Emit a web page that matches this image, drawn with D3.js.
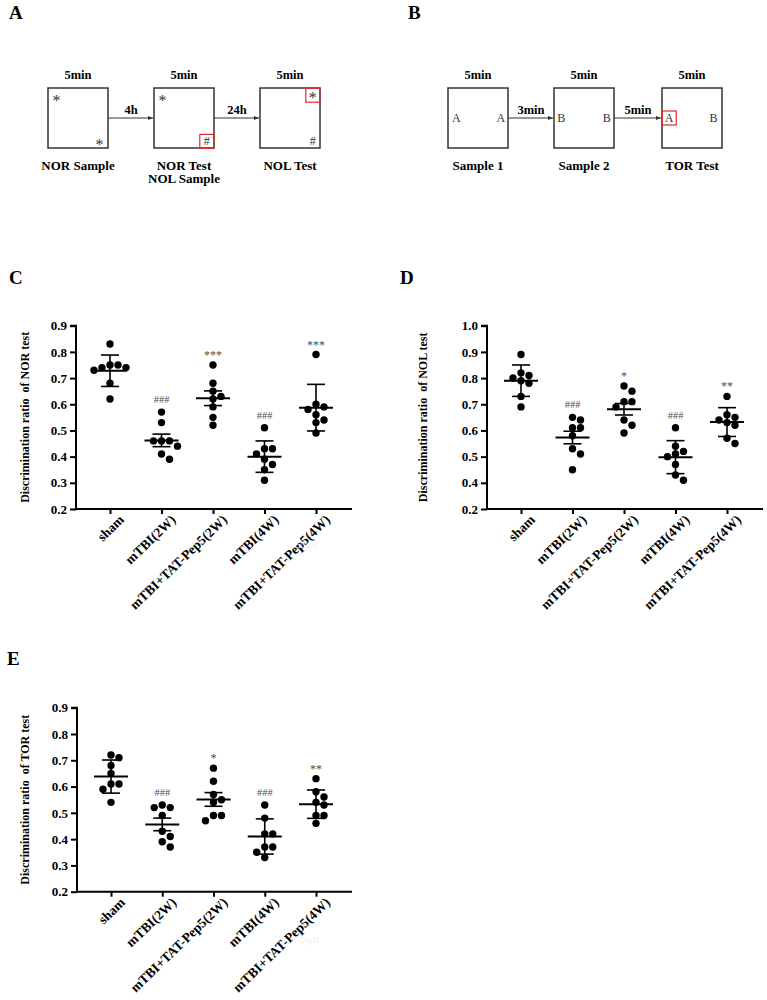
<!DOCTYPE html>
<html>
<head>
<meta charset="utf-8">
<script src="https://cdn.jsdelivr.net/npm/d3@7"></script>
<style>
  body { margin: 0; background: #fff; }
  svg text { font-family: "Liberation Serif", "DejaVu Serif", serif !important; }
  .sig { opacity: 0.72; }
</style>
</head>
<body>
<script>
// groups shared by the three scatter panels
const groups = ["sham", "mTBI(2W)", "mTBI+TAT-Pep5(2W)", "mTBI(4W)", "mTBI+TAT-Pep5(4W)"];

// C - NOR test
const norValues = [
  [0.83, 0.75, 0.75, 0.74, 0.74, 0.73, 0.68, 0.62],
  [0.57, 0.53, 0.46, 0.46, 0.46, 0.44, 0.41, 0.39],
  [0.75, 0.68, 0.65, 0.63, 0.62, 0.59, 0.55, 0.52],
  [0.51, 0.43, 0.43, 0.41, 0.39, 0.37, 0.35, 0.31],
  [0.79, 0.60, 0.59, 0.58, 0.56, 0.54, 0.53, 0.49]
];
const norMean = [0.728, 0.462, 0.623, 0.400, 0.587];
const norErr = [0.060, 0.024, 0.028, 0.060, 0.089];
const norSig = ["", "###", "***", "###", "***"];
const norTicks = [0.2, 0.3, 0.4, 0.5, 0.6, 0.7, 0.8, 0.9];
const norTickLabels = ["0.2", "0.3", "0.4", "0.5", "0.6", "0.7", "0.8", "0.9"];

// D - NOL test (the original axis skips 0.3: its bottom tick is labelled 0.2)
const nolValues = [
  [0.89, 0.82, 0.81, 0.80, 0.79, 0.78, 0.73, 0.69],
  [0.65, 0.64, 0.61, 0.61, 0.58, 0.53, 0.51, 0.45],
  [0.77, 0.75, 0.71, 0.71, 0.69, 0.64, 0.62, 0.59],
  [0.61, 0.54, 0.52, 0.51, 0.50, 0.47, 0.43, 0.41],
  [0.73, 0.66, 0.65, 0.64, 0.63, 0.62, 0.57, 0.55]
];
const nolMean = [0.790, 0.573, 0.681, 0.498, 0.632];
const nolErr = [0.060, 0.024, 0.022, 0.063, 0.055];
const nolSig = ["", "###", "*", "###", "**"];
const nolTicks = [0.3, 0.4, 0.5, 0.6, 0.7, 0.8, 0.9, 1.0];
const nolTickLabels = ["0.2", "0.4", "0.5", "0.6", "0.7", "0.8", "0.9", "1.0"];

// E - TOR test
const torValues = [
  [0.72, 0.71, 0.68, 0.65, 0.61, 0.61, 0.59, 0.54],
  [0.53, 0.52, 0.52, 0.49, 0.43, 0.41, 0.39, 0.37],
  [0.67, 0.62, 0.57, 0.55, 0.54, 0.49, 0.49, 0.47],
  [0.53, 0.48, 0.42, 0.42, 0.37, 0.37, 0.35, 0.33],
  [0.63, 0.58, 0.56, 0.54, 0.53, 0.49, 0.49, 0.46]
];
const torMean = [0.638, 0.456, 0.551, 0.410, 0.533];
const torErr = [0.063, 0.024, 0.026, 0.067, 0.054];
const torSig = ["", "###", "*", "###", "**"];
const torTicks = norTicks;
const torTickLabels = norTickLabels;

const W = 767, H = 1000;
const svg = d3.select("body").append("svg")
    .attr("width", W)
    .attr("height", H);

// panel letters
const letters = [["A", 9, 19], ["B", 408, 19], ["C", 9, 284], ["D", 400, 284], ["E", 7, 665]];
svg.selectAll("text.letter")
    .data(letters)
    .enter().append("text")
    .attr("class", "letter")
    .attr("x", d => d[1])
    .attr("y", d => d[2])
    .attr("font-size", 19)
    .attr("font-weight", "bold")
    .text(d => d[0]);

// ---------- schematic panels A and B ----------
svg.append("defs").append("marker")
    .attr("id", "arr")
    .attr("viewBox", "0 0 10 10")
    .attr("refX", 10).attr("refY", 5)
    .attr("markerWidth", 5).attr("markerHeight", 5)
    .attr("orient", "auto")
    .append("path")
    .attr("d", "M0,1L10,5L0,9Z")
    .attr("fill", "#333");

function schematic(boxes, gaps, boxTop) {
    let g = svg.append("g");
    let size = 60;
    boxes.forEach((b, i) => {
        g.append("rect")
            .attr("x", b.x).attr("y", boxTop)
            .attr("width", size).attr("height", size)
            .attr("fill", "none")
            .attr("stroke", "#333")
            .attr("stroke-width", 1.5);
        g.append("text")
            .attr("x", b.x + size / 2).attr("y", boxTop - 9)
            .attr("text-anchor", "middle")
            .attr("font-size", 12.5).attr("font-weight", "bold")
            .text("5min");
        b.label.forEach((t, j) => {
            g.append("text")
                .attr("x", b.x + size / 2).attr("y", boxTop + size + 22 + j * 13)
                .attr("text-anchor", "middle")
                .attr("font-size", 13).attr("font-weight", "bold")
                .text(t);
        });
        b.objects.forEach(o => {
            let ox = b.x + o[1] * size, oy = boxTop + o[2] * size;
            if (o[3]) {
                g.append("rect")
                    .attr("x", ox - 7).attr("y", oy - 7)
                    .attr("width", 14).attr("height", 14)
                    .attr("fill", "none")
                    .attr("stroke", "#e8262b")
                    .attr("stroke-width", 1.2);
            }
            g.append("text")
                .attr("x", ox).attr("y", oy + (o[0] === "*" ? 8 : 4))
                .attr("text-anchor", "middle")
                .attr("font-size", o[0] === "*" ? 16 : 12)
                .attr("fill", "#333")
                .text(o[0]);
        });
        if (i < boxes.length - 1) {
            let x1 = b.x + size, x2 = boxes[i + 1].x;
            g.append("line")
                .attr("x1", x1).attr("x2", x2 - 1)
                .attr("y1", boxTop + 30).attr("y2", boxTop + 30)
                .attr("stroke", "#333")
                .attr("stroke-width", 1.1)
                .attr("marker-end", "url(#arr)");
            g.append("text")
                .attr("x", (x1 + x2) / 2).attr("y", boxTop + 26)
                .attr("text-anchor", "middle")
                .attr("font-size", 12.5).attr("font-weight", "bold")
                .text(gaps[i]);
        }
    });
}

schematic([
    { x: 48, label: ["NOR Sample"], objects: [["*", 0.14, 0.16], ["*", 0.86, 0.9]] },
    { x: 154, label: ["NOR Test", "NOL Sample"], objects: [["*", 0.14, 0.16], ["#", 0.88, 0.89, true]] },
    { x: 260, label: ["NOL Test"], objects: [["*", 0.88, 0.12, true], ["#", 0.88, 0.89]] }
], ["4h", "24h"], 88);

schematic([
    { x: 448, label: ["Sample 1"], objects: [["A", 0.14, 0.5], ["A", 0.88, 0.5]] },
    { x: 554, label: ["Sample 2"], objects: [["B", 0.12, 0.5], ["B", 0.88, 0.5]] },
    { x: 662, label: ["TOR Test"], objects: [["A", 0.12, 0.5, true], ["B", 0.86, 0.5]] }
], ["3min", "5min"], 88);

// ---------- scatter panels ----------
function swarm(vals, y, r, step) {
    let placed = [];
    return vals.map(v => {
        let cy = y(v);
        for (let k = 0; k < 30; k++) {
            let dx = (k % 2 ? 1 : -1) * Math.ceil(k / 2) * step;
            if (placed.every(p => Math.hypot(p[0] - dx, p[1] - cy) >= 2 * r + 0.3)) {
                placed.push([dx, cy]);
                return [dx, cy];
            }
        }
        return [0, cy];
    });
}

function scatterPanel(p) {
    let g = svg.append("g");

    let x = d3.scalePoint()
        .domain(groups)
        .range([p.left + 34, p.right - 36]);

    let y = d3.scaleLinear()
        .domain([p.ticks[0], p.ticks[p.ticks.length - 1]])
        .range([p.bottom, p.top]);

    // y axis
    let yAxis = g.append("g")
        .attr("transform", `translate(${p.left},0)`)
        .call(d3.axisLeft(y)
            .tickValues(p.ticks)
            .tickFormat((d, i) => p.tickLabels[i])
            .tickSize(6)
            .tickPadding(3));
    yAxis.select(".domain").attr("stroke-width", 2).attr("d", `M-6,${p.top}H0V${p.bottom}`);
    yAxis.selectAll(".tick line").attr("stroke-width", 2);
    yAxis.selectAll("text")
        .attr("font-size", 13)
        .attr("font-weight", "bold")
        .attr("fill", "#000");

    // x axis
    let xAxis = g.append("g")
        .attr("transform", `translate(0,${p.bottom})`)
        .call(d3.axisBottom(x).tickSize(5).tickSizeOuter(0));
    xAxis.select(".domain").attr("stroke-width", 2).attr("d", `M${p.left},0H${p.right}`);
    xAxis.selectAll(".tick line").attr("stroke-width", 2);
    xAxis.selectAll("text")
        .attr("font-size", 13.5)
        .attr("font-weight", "bold")
        .attr("fill", "#000")
        .attr("text-anchor", "end")
        .attr("transform", "translate(6,3) rotate(-44)")
        .attr("dy", "0.9em")
        .attr("y", 0);

    // y title
    g.append("text")
        .attr("transform", `translate(${p.titleX},${(p.top + p.bottom) / 2}) rotate(-90)`)
        .attr("text-anchor", "middle")
        .attr("font-size", 12)
        .attr("font-weight", "bold")
        .attr("dy", "0.35em")
        .style("white-space", "pre")
        .text(p.title);

    // points, mean and error bars
    groups.forEach((grp, i) => {
        let cx = x(grp);
        let r = 3.7;
        let pos = swarm(p.values[i].slice().sort((a, b) => b - a), y, r, 8);
        g.append("g").selectAll("circle")
            .data(pos)
            .enter().append("circle")
            .attr("cx", d => cx + d[0])
            .attr("cy", d => d[1])
            .attr("r", r)
            .attr("fill", "#000");

        let m = p.mean[i], e = p.err[i];
        g.append("line")
            .attr("x1", cx - 17).attr("x2", cx + 17)
            .attr("y1", y(m)).attr("y2", y(m))
            .attr("stroke", "#000").attr("stroke-width", 2);
        g.append("line")
            .attr("x1", cx).attr("x2", cx)
            .attr("y1", y(m - e)).attr("y2", y(m + e))
            .attr("stroke", "#000").attr("stroke-width", 1.6);
        [m - e, m + e].forEach(v => {
            g.append("line")
                .attr("x1", cx - 9).attr("x2", cx + 9)
                .attr("y1", y(v)).attr("y2", y(v))
                .attr("stroke", "#000").attr("stroke-width", 1.6);
        });

        if (p.sig[i]) {
            let top = y(d3.max(p.values[i]));
            let star = p.sig[i][0] === "*";
            g.append("text")
                .attr("class", "sig")
                .attr("x", cx)
                .attr("y", top - 13 + (star ? 7 : 4))
                .attr("text-anchor", "middle")
                .attr("font-size", star ? 12 : 10.5)
                .attr("fill", "#000")
                .text(p.sig[i]);
        }
    });

    if (p.mark) {
        g.append("text")
            .attr("x", p.mark[0]).attr("y", p.mark[1])
            .attr("font-size", 8)
            .attr("fill", "#f4eee4")
            .text("25μM");
    }
}

scatterPanel({
    left: 76, right: 352, top: 325.7, bottom: 509,
    titleX: 25, title: "Discrimination ratio  of NOR test",
    ticks: norTicks, tickLabels: norTickLabels,
    values: norValues, mean: norMean, err: norErr, sig: norSig,
    mark: [298, 548]
});

scatterPanel({
    left: 487, right: 763, top: 325.7, bottom: 509,
    titleX: 423, title: "Discrimination ratio  of NOL test",
    ticks: nolTicks, tickLabels: nolTickLabels,
    values: nolValues, mean: nolMean, err: nolErr, sig: nolSig
});

scatterPanel({
    left: 77, right: 352, top: 707.7, bottom: 891.7,
    titleX: 25, title: "Discrimination ratio  of TOR test",
    ticks: torTicks, tickLabels: torTickLabels,
    values: torValues, mean: torMean, err: torErr, sig: torSig,
    mark: [300, 943]
});
</script>
</body>
</html>
